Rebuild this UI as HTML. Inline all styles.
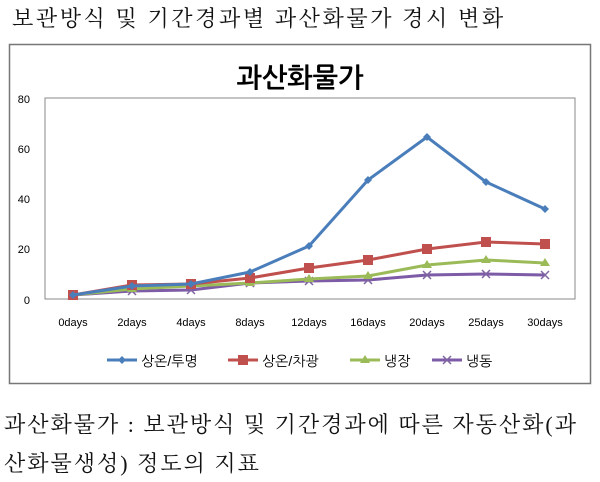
<!DOCTYPE html>
<html><head><meta charset="utf-8"><style>
body{margin:0;background:#fff;width:600px;height:482px;overflow:hidden}
svg{display:block}
</style></head><body>
<svg width="600" height="482" xmlns="http://www.w3.org/2000/svg">
<text x="12" y="26" font-family="'Liberation Serif','Noto Serif CJK SC',serif" font-size="22" letter-spacing="2.6" fill="#111">보관방식 및 기간경과별 과산화물가 경시 변화</text>
<rect x="9.5" y="44.5" width="581" height="339" fill="#fff" stroke="#777" stroke-width="1.5"/>
<text x="300" y="87" text-anchor="middle" font-family="'Liberation Sans','NanumGothic','Noto Sans CJK KR',sans-serif" font-weight="bold" font-size="27" fill="#000">과산화물가</text>
<rect x="45" y="98" width="530" height="201" fill="#fff" stroke="#888" stroke-width="1"/>
<g font-family="'Liberation Sans',sans-serif" font-size="11" fill="#000" text-anchor="end">
<text x="30" y="103">80</text><text x="30" y="153">60</text><text x="30" y="203">40</text><text x="30" y="253">20</text><text x="30" y="304">0</text>
</g>
<g font-family="'Liberation Sans',sans-serif" font-size="11" fill="#000" text-anchor="middle">
<text x="73" y="326">0days</text><text x="132" y="326">2days</text><text x="191" y="326">4days</text><text x="250" y="326">8days</text><text x="309" y="326">12days</text><text x="368" y="326">16days</text><text x="427" y="326">20days</text><text x="486" y="326">25days</text><text x="545" y="326">30days</text>
</g>
<polyline fill="none" stroke="#7d5ba6" stroke-width="3" points="73,295 132,291 191,290 250,283 309,281 368,280 427,275 486,274 545,275"/>
<g stroke="#8064a2" stroke-width="1.5">
<path d="M69,291l8,8M77,291l-8,8M128,287l8,8M136,287l-8,8M187,286l8,8M195,286l-8,8M246,279l8,8M254,279l-8,8M305,277l8,8M313,277l-8,8M364,276l8,8M372,276l-8,8M423,271l8,8M431,271l-8,8M482,270l8,8M490,270l-8,8M541,271l8,8M549,271l-8,8"/>
</g>
<polyline fill="none" stroke="#9bbb59" stroke-width="3" points="73,295 132,289 191,286 250,283 309,279 368,276 427,265 486,260 545,263"/>
<g fill="#9bbb59">
<path d="M73,290l5,8h-10zM132,284l5,8h-10zM191,281l5,8h-10zM250,278l5,8h-10zM309,274l5,8h-10zM368,271l5,8h-10zM427,260l5,8h-10zM486,255l5,8h-10zM545,258l5,8h-10z"/>
</g>
<polyline fill="none" stroke="#c0504d" stroke-width="3" points="73,295 132,285 191,284 250,278 309,268 368,260 427,249 486,242 545,244"/>
<g fill="#c0504d">
<rect x="68" y="290" width="10" height="10"/><rect x="127" y="280" width="10" height="10"/><rect x="186" y="279" width="10" height="10"/><rect x="245" y="273" width="10" height="10"/><rect x="304" y="263" width="10" height="10"/><rect x="363" y="255" width="10" height="10"/><rect x="422" y="244" width="10" height="10"/><rect x="481" y="237" width="10" height="10"/><rect x="540" y="239" width="10" height="10"/>
</g>
<polyline fill="none" stroke="#4a7ebb" stroke-width="3" points="73,295 132,286 191,284 250,272 309,246 368,180 427,137 486,182 545,209"/>
<g fill="#4a7ebb">
<path d="M73,291l4,4-4,4-4-4zM132,282l4,4-4,4-4-4zM191,280l4,4-4,4-4-4zM250,268l4,4-4,4-4-4zM309,242l4,4-4,4-4-4zM368,176l4,4-4,4-4-4zM427,133l4,4-4,4-4-4zM486,178l4,4-4,4-4-4zM545,205l4,4-4,4-4-4z"/>
</g>
<g font-family="'Liberation Sans','NanumGothic','Noto Sans CJK KR',sans-serif" font-size="14" fill="#000">
<line x1="107" y1="360" x2="137" y2="360" stroke="#4a7ebb" stroke-width="3"/><path d="M122,356l4,4-4,4-4-4z" fill="#4a7ebb"/><text x="141" y="366">상온/투명</text>
<line x1="228" y1="360" x2="258" y2="360" stroke="#c0504d" stroke-width="3"/><rect x="238" y="355" width="10" height="10" fill="#c0504d"/><text x="262" y="366">상온/차광</text>
<line x1="350" y1="360" x2="380" y2="360" stroke="#9bbb59" stroke-width="3"/><path d="M365,355l5,8h-10z" fill="#9bbb59"/><text x="384" y="366">냉장</text>
<line x1="432" y1="360" x2="462" y2="360" stroke="#7d5ba6" stroke-width="3"/><path d="M443,356l8,8M451,356l-8,8" stroke="#8064a2" stroke-width="1.5"/><text x="466" y="366">냉동</text>
</g>
<g font-family="'Liberation Serif','Noto Serif CJK SC',serif" font-size="22" fill="#111" letter-spacing="2">
<text x="4" y="432">과산화물가 : 보관방식 및 기간경과에 따른 자동산화(과</text>
<text x="4" y="471">산화물생성) 정도의 지표</text>
</g>
</svg>
</body></html>
